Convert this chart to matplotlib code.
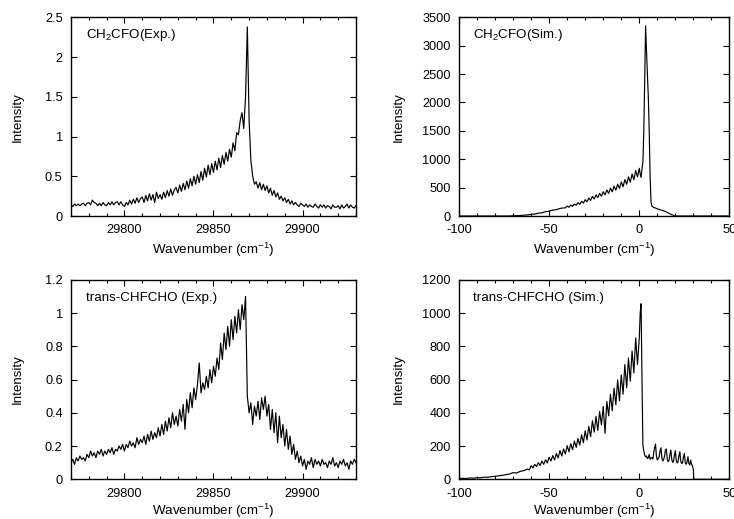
import matplotlib
matplotlib.use("Agg")
import matplotlib.pyplot as plt
import numpy as np
from matplotlib.ticker import MultipleLocator, FormatStrFormatter

plt.rcParams["font.family"] = ["Liberation Sans", "DejaVu Sans"]
plt.rcParams["mathtext.fontset"] = "custom"
plt.rcParams["mathtext.rm"] = "Liberation Sans"
plt.rcParams["mathtext.it"] = "Liberation Sans:italic"
plt.rcParams["mathtext.bf"] = "Liberation Sans:bold"

# CH2CFO experimental spectrum, one point per cm-1 from 29770 to 29930
exp1_x = np.arange(29770, 29931, 1.0)
exp1_y = [
    0.14, 0.12, 0.15, 0.13, 0.15, 0.13, 0.15, 0.16, 0.13, 0.16,
    0.17, 0.14, 0.20, 0.17, 0.16, 0.13, 0.16, 0.13, 0.17, 0.14,
    0.13, 0.17, 0.14, 0.18, 0.14, 0.17, 0.18, 0.14, 0.18, 0.14,
    0.12, 0.17, 0.14, 0.20, 0.15, 0.21, 0.16, 0.23, 0.17, 0.22,
    0.24, 0.17, 0.26, 0.19, 0.28, 0.20, 0.27, 0.17, 0.30, 0.22,
    0.27, 0.21, 0.30, 0.23, 0.32, 0.25, 0.34, 0.26, 0.33, 0.36,
    0.29, 0.39, 0.31, 0.41, 0.33, 0.44, 0.35, 0.47, 0.38, 0.50,
    0.40, 0.52, 0.42, 0.56, 0.45, 0.60, 0.49, 0.64, 0.52, 0.66,
    0.55, 0.69, 0.58, 0.73, 0.61, 0.76, 0.65, 0.80, 0.69, 0.84,
    0.74, 0.92, 0.82, 1.05, 1.02, 1.20, 1.30, 1.10, 1.50, 2.38,
    1.20, 0.70, 0.50, 0.40, 0.43, 0.35, 0.42, 0.33, 0.40, 0.32,
    0.38, 0.29, 0.35, 0.26, 0.32, 0.24, 0.29, 0.21, 0.25, 0.19,
    0.23, 0.17, 0.21, 0.15, 0.19, 0.14, 0.17, 0.14, 0.12, 0.16,
    0.14, 0.12, 0.15, 0.11, 0.14, 0.12, 0.11, 0.15, 0.12, 0.10,
    0.14, 0.11, 0.14, 0.10, 0.13, 0.12, 0.09, 0.14, 0.11, 0.11,
    0.13, 0.09, 0.14, 0.10, 0.12, 0.15, 0.10, 0.14, 0.11, 0.10,
    0.13,
]

# trans-CHFCHO experimental spectrum, same grid
exp2_x = np.arange(29770, 29931, 1.0)
exp2_y = [
    0.10, 0.12, 0.09, 0.13, 0.11, 0.14, 0.12, 0.13, 0.11, 0.15,
    0.13, 0.17, 0.14, 0.16, 0.13, 0.17, 0.15, 0.18, 0.14, 0.17,
    0.15, 0.18, 0.16, 0.19, 0.15, 0.18, 0.17, 0.20, 0.18, 0.21,
    0.17, 0.21, 0.19, 0.23, 0.20, 0.22, 0.19, 0.25, 0.21, 0.24,
    0.22, 0.26, 0.21, 0.27, 0.23, 0.29, 0.24, 0.28, 0.25, 0.31,
    0.26, 0.33, 0.27, 0.35, 0.29, 0.37, 0.31, 0.40, 0.33, 0.38,
    0.32, 0.42, 0.35, 0.45, 0.30, 0.48, 0.40, 0.52, 0.43, 0.55,
    0.48, 0.57, 0.70, 0.52, 0.58, 0.54, 0.62, 0.55, 0.66, 0.58,
    0.68, 0.62, 0.73, 0.66, 0.82, 0.72, 0.88, 0.78, 0.92, 0.80,
    0.96, 0.84, 0.98, 0.88, 1.02, 0.90, 1.05, 0.96, 1.10, 0.50,
    0.40, 0.46, 0.33, 0.44, 0.38, 0.47, 0.36, 0.49, 0.42, 0.50,
    0.38, 0.45, 0.30, 0.42, 0.28, 0.40, 0.22, 0.38, 0.25, 0.33,
    0.20, 0.30, 0.18, 0.26, 0.15, 0.21, 0.12, 0.17, 0.10, 0.14,
    0.08, 0.12, 0.06, 0.11, 0.09, 0.13, 0.07, 0.12, 0.09, 0.11,
    0.08, 0.12, 0.09, 0.10, 0.07, 0.11, 0.09, 0.13, 0.08, 0.10,
    0.07, 0.11, 0.09, 0.12, 0.08, 0.10, 0.06, 0.11, 0.09, 0.12,
    0.10,
]

# CH2CFO simulated spectrum (relative wavenumber)
sim1_x = [
    -100, -72, -70, -68, -66, -64, -62, -60, -58, -56, -54, -52, -50,
    -48, -46, -44, -42,
    -41, -40, -39, -38, -37, -36, -35, -34, -33, -32, -31, -30,
    -29, -28, -27, -26, -25, -24, -23, -22, -21, -20,
    -19, -18, -17, -16, -15, -14, -13, -12, -11, -10,
    -9, -8, -7, -6, -5, -4, -3, -2, -1, 0,
    0.5, 1.0, 1.5, 2.0, 2.5, 3.0, 3.5, 4.0, 4.5, 5.0, 5.5, 6.0, 6.5, 7.0,
    8, 9, 10, 11, 12, 13, 14, 15, 16, 17, 18, 19, 20, 50,
]
sim1_y = [
    0, 0, 4, 7, 9, 15, 19, 30, 34, 50, 56, 76, 84,
    104, 112, 134, 142,
    145, 175, 155, 190, 170, 210, 190, 235, 205, 260, 228, 288,
    250, 315, 275, 345, 300, 372, 325, 400, 348, 428,
    372, 458, 398, 492, 425, 525, 455, 560, 485, 600,
    515, 640, 560, 690, 595, 740, 640, 800, 690, 840,
    740, 680, 830, 950, 1500, 2400, 3350, 2900, 2500, 2100, 1500, 700, 250, 175,
    150, 140, 125, 118, 105, 96, 85, 70, 55, 38, 24, 10, 0, 0,
]

# trans-CHFCHO simulated spectrum (relative wavenumber)
sim2_x = [
    -100, -98, -96, -94, -92, -90, -88, -86, -84, -82,
    -80, -78, -76, -74, -72, -70, -68, -66, -64, -62,
    -61, -60, -59, -58, -57, -56, -55, -54, -53, -52,
    -51, -50, -49, -48, -47, -46, -45, -44, -43, -42,
    -41, -40, -39, -38, -37, -36, -35, -34, -33, -32,
    -31, -30, -29, -28, -27, -26, -25, -24, -23, -22,
    -21, -20, -19, -18, -17, -16, -15, -14, -13, -12,
    -11, -10, -9, -8, -7, -6, -5, -4, -3, -2, -1,
    0, 0.5, 1.0, 1.5, 2.0, 2.5, 3.0, 3.5, 4.0, 4.5,
    5.0, 5.5, 6.0, 6.5, 7.0, 7.5, 8.0, 8.5, 9.0, 9.5,
    10.0, 10.5, 11.0, 11.5, 12.0, 12.5, 13.0, 13.5, 14.0, 14.5,
    15.0, 15.5, 16.0, 16.5, 17.0, 17.5, 18.0, 18.5, 19.0, 19.5,
    20.0, 20.5, 21.0, 21.5, 22.0, 22.5, 23.0, 23.5, 24.0, 24.5,
    25.0, 25.5, 26.0, 26.5, 27.0, 27.5, 28.0, 28.5, 29.0, 29.5,
    30.0, 30.2, 50,
]
sim2_y = [
    4, 6, 5, 8, 7, 10, 9, 13, 12, 16,
    18, 21, 24, 28, 32, 40, 38, 48, 52, 62,
    56, 82, 68, 90, 76, 100, 83, 110, 90, 118,
    98, 133, 110, 143, 116, 155, 128, 173, 140, 183,
    152, 202, 165, 214, 178, 230, 192, 245, 206, 268,
    220, 292, 236, 318, 256, 352, 284, 378, 294, 408,
    328, 438, 276, 468, 382, 512, 412, 548, 448, 598,
    472, 628, 512, 690, 550, 730, 590, 772, 640, 850, 690,
    850, 1000, 1056, 600, 206, 170, 146, 135, 140, 125,
    130, 150, 120, 128, 130, 122, 160, 190, 212, 140,
    116, 125, 135, 170, 190, 130, 110, 118, 140, 175,
    182, 120, 106, 115, 150, 176, 120, 102, 110, 145,
    172, 115, 98, 105, 140, 166, 108, 94, 100, 135,
    156, 100, 90, 105, 136, 95, 86, 116, 90, 80,
    56, 0, 0,
]

labels = ["CH$_2$CFO(Exp.)", "CH$_2$CFO(Sim.)",
          "trans-CHFCHO (Exp.)", "trans-CHFCHO (Sim.)"]


def style_axis(ax, xlim, ylim, ystep, label, ylab_x, xlab_y):
    ax.set_xlim(*xlim)
    ax.set_ylim(*ylim)
    ax.yaxis.set_major_locator(MultipleLocator(ystep))
    ax.yaxis.set_major_formatter(FormatStrFormatter("%g"))
    ax.xaxis.set_major_locator(MultipleLocator(50))
    ax.xaxis.set_minor_locator(MultipleLocator(10))
    ax.xaxis.set_major_formatter(FormatStrFormatter("%g"))
    ax.tick_params(which="both", direction="in", top=True, right=True,
                   labelsize=9.2, pad=6, width=0.8)
    ax.tick_params(which="major", length=4.5)
    ax.tick_params(which="minor", length=2.5)
    for s in ax.spines.values():
        s.set_linewidth(1.0)
    ax.set_xlabel("Wavenumber (cm$^{-1}$)", fontsize=9.6)
    ax.set_ylabel("Intensity", fontsize=9.6)
    ax.xaxis.set_label_coords(0.5, xlab_y)
    ax.yaxis.set_label_coords(ylab_x, 0.5)
    ax.text(0.053, 0.91, label, transform=ax.transAxes, fontsize=9.6,
            va="center", ha="left")


fig = plt.figure(figsize=(7.34, 5.19), dpi=100)
ax1 = fig.add_axes([0.0967, 0.5838, 0.3883, 0.3829])
ax2 = fig.add_axes([0.6253, 0.5838, 0.3685, 0.3829])
ax3 = fig.add_axes([0.0967, 0.0765, 0.3883, 0.3844])
ax4 = fig.add_axes([0.6253, 0.0765, 0.3685, 0.3844])

ax1.plot(exp1_x, exp1_y, color="black", lw=0.85)
ax2.plot(sim1_x, sim1_y, color="black", lw=0.85)
ax3.plot(exp2_x, exp2_y, color="black", lw=0.85)
ax4.plot(sim2_x, sim2_y, color="black", lw=0.85)

style_axis(ax1, (29770, 29930), (0, 2.5), 0.5, labels[0], -0.167, -0.125)
style_axis(ax2, (-100, 50), (0, 3500), 500, labels[1], -0.202, -0.125)
style_axis(ax3, (29770, 29930), (0, 1.2), 0.2, labels[2], -0.167, -0.115)
style_axis(ax4, (-100, 50), (0, 1200), 200, labels[3], -0.202, -0.115)

fig.savefig("out.png", dpi=100)
